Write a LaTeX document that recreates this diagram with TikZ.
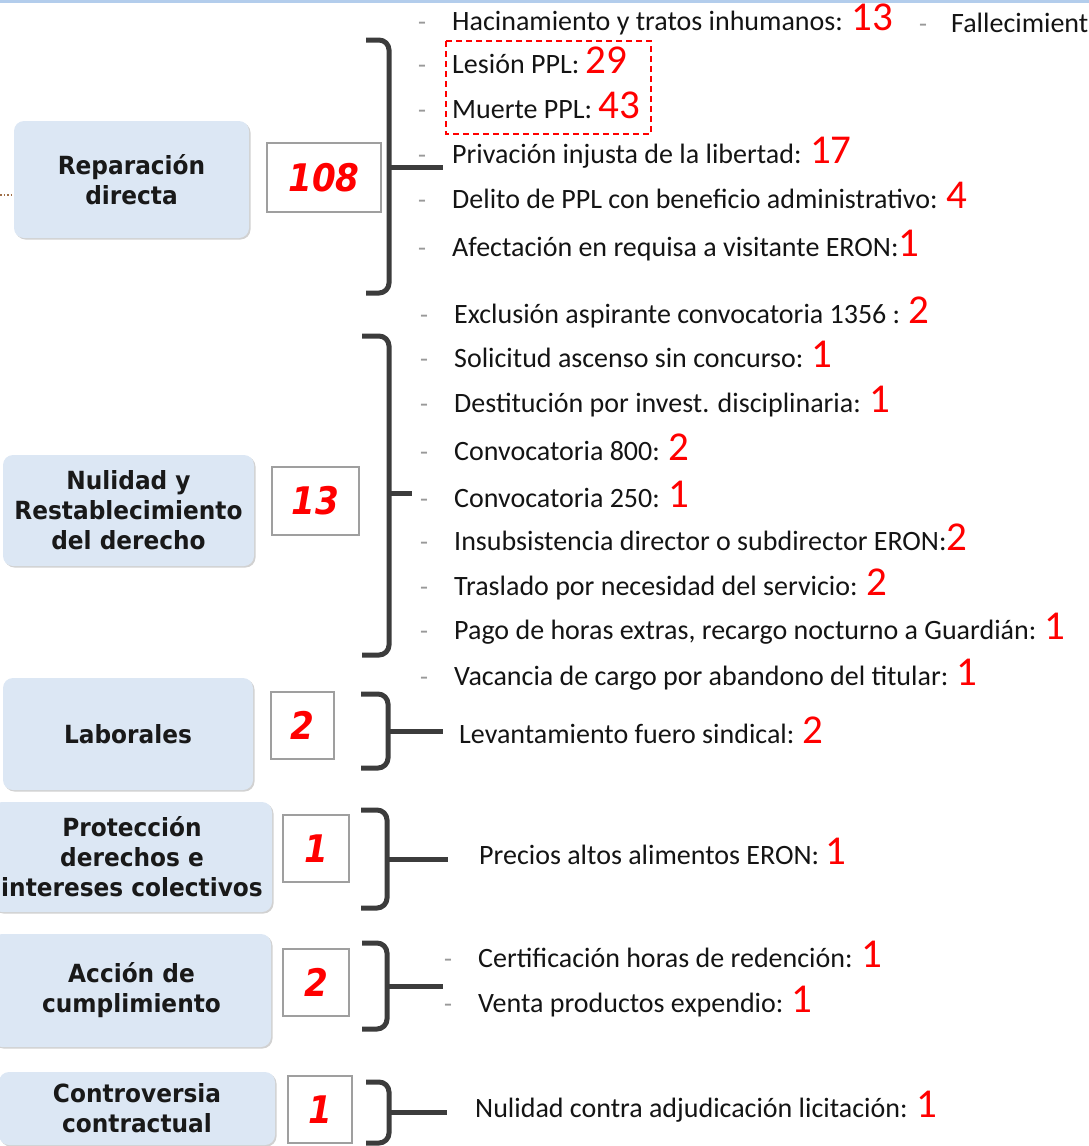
\documentclass[tikz,border=0pt]{standalone}
\usepackage{fontspec}
\setmainfont{Carlito}
\newfontfamily\catfont[FakeStretch=0.93]{DejaVu Sans}
\newfontfamily\numfont[FakeStretch=0.9]{DejaVu Sans}
\usetikzlibrary{shadows}
\definecolor{catfill}{HTML}{DCE7F4}
\definecolor{brk}{HTML}{3C3C3C}
\definecolor{topline}{HTML}{B3CDEC}
\definecolor{dotbrown}{HTML}{A0704A}
\newcommand\rn[1]{{\fontsize{41}{41}\selectfont\color{red}#1}}
\begin{document}
\begin{tikzpicture}[x=1pt,y=-1pt,
  cat/.style={rounded corners=10pt, fill=catfill, draw=none, inner sep=0pt,
    align=center, text=black!90,
    font=\catfont\bfseries\fontsize{25}{30}\selectfont,
    drop shadow={shadow xshift=1.5pt, shadow yshift=-1.5pt, opacity=0.18, fill=black}},
  numbox/.style={draw=gray!75, line width=1.5pt, fill=white, inner sep=0pt,
    text=red, font=\numfont\bfseries\itshape\fontsize{38}{38}\selectfont},
  item/.style={anchor=base west, inner sep=0pt, text=black!92,
    font=\fontsize{28}{30}\selectfont},
  itemdash/.style={anchor=base west, inner sep=0pt, text=gray!80,
    font=\fontsize{26}{26}\selectfont},
  bracket/.style={draw=brk, line width=5pt, rounded corners=10pt},
  tick/.style={draw=brk, line width=5pt},
  hl/.style={draw=red, line width=1.6pt, dash pattern=on 6pt off 4pt}
]
\useasboundingbox (0,0) rectangle (1089,1146);
\fill[topline] (0,0) rectangle (1089,3);
\draw[dotbrown, line width=1.5pt, dotted] (0,195) -- (14,195);

% ---------- category boxes ----------
\node[cat, minimum width=235pt, minimum height=117pt] (c1) at (131.5,179.5) {Reparación\\directa};
\node[cat, minimum width=251pt, minimum height=111pt] (c2) at (128.5,510.5) {Nulidad y\\Restablecimiento\\del derecho};
\node[cat, minimum width=250pt, minimum height=112pt] (c3) at (128,734) {Laborales};
\node[cat, minimum width=280pt, minimum height=110pt] (c4) at (132,857) {Protección\\derechos e\\intereses colectivos};
\node[cat, minimum width=279pt, minimum height=113pt] (c5) at (131.5,990.5) {Acción de\\cumplimiento};
\node[cat, minimum width=276pt, minimum height=73pt] (c6) at (137,1108.5) {Controversia\\contractual};

% ---------- number boxes ----------
\node[numbox, minimum width=114pt, minimum height=69pt] (n1) at (324,177.5) {108};
\node[numbox, minimum width=87pt, minimum height=68pt] (n2) at (315.5,501) {13};
\node[numbox, minimum width=63pt, minimum height=67pt] (n3) at (302.5,725.5) {2};
\node[numbox, minimum width=66pt, minimum height=67pt] (n4) at (316,848.5) {1};
\node[numbox, minimum width=66pt, minimum height=67pt] (n5) at (316,982.5) {2};
\node[numbox, minimum width=64pt, minimum height=67pt] (n6) at (320,1109.5) {1};

% ---------- brackets ----------
\draw[bracket] (366,40) -- (389,40) -- (389,293) -- (366,293);
\draw[tick] (389,167) -- (443,167);
\draw[bracket] (362,336) -- (389,336) -- (389,655) -- (362,655);
\draw[tick] (389,493) -- (412,493);
\draw[bracket] (361,694) -- (388,694) -- (388,768) -- (361,768);
\draw[tick] (388,731) -- (443,731);
\draw[bracket] (361,810) -- (387,810) -- (387,908) -- (361,908);
\draw[tick] (387,859) -- (448,859);
\draw[bracket] (362,943) -- (387,943) -- (387,1029) -- (362,1029);
\draw[tick] (387,986) -- (443,986);
\draw[bracket] (366,1082) -- (389,1082) -- (389,1143) -- (366,1143);
\draw[tick] (389,1112) -- (447,1112);

% ---------- group 1 ----------
\draw[hl] (446,41) rectangle (651,134);
\node[itemdash] (d11) at (418,30) {-};
\node[item] (i11) at (452,30) {Hacinamiento y tratos inhumanos: \rn{13}};
\node[itemdash] (d1x) at (919,32) {-};
\node[item] (i1x) at (951,32) {Fallecimient};
\node[itemdash] (d12) at (418,73) {-};
\node[item] (i12) at (452,73) {Lesión PPL: \rn{29}};
\node[itemdash] (d13) at (418,118) {-};
\node[item] (i13) at (452,118) {Muerte PPL: \rn{43}};
\node[itemdash] (d14) at (418,163) {-};
\node[item] (i14) at (452,163) {Privación injusta de la libertad: \rn{17}};
\node[itemdash] (d15) at (418,208) {-};
\node[item] (i15) at (452,208) {Delito de PPL con beneficio administrativo: \rn{4}};
\node[itemdash] (d16) at (418,256) {-};
\node[item] (i16) at (452,256) {Afectación en requisa a visitante ERON:\rn{1}};

% ---------- group 2 ----------
\node[itemdash] (d21) at (420,323) {-};
\node[item] (i21) at (454,323) {Exclusión aspirante convocatoria 1356 : \rn{2}};
\node[itemdash] (d22) at (420,367) {-};
\node[item] (i22) at (454,367) {Solicitud ascenso sin concurso: \rn{1}};
\node[itemdash] (d23) at (420,412) {-};
\node[item] (i23) at (454,412) {Destitución por invest. disciplinaria: \rn{1}};
\node[itemdash] (d24) at (420,460) {-};
\node[item] (i24) at (454,460) {Convocatoria 800: \rn{2}};
\node[itemdash] (d25) at (420,507) {-};
\node[item] (i25) at (454,507) {Convocatoria 250: \rn{1}};
\node[itemdash] (d26) at (420,550) {-};
\node[item] (i26) at (454,550) {Insubsistencia director o subdirector ERON:\rn{2}};
\node[itemdash] (d27) at (420,595) {-};
\node[item] (i27) at (454,595) {Traslado por necesidad del servicio: \rn{2}};
\node[itemdash] (d28) at (420,639) {-};
\node[item] (i28) at (454,639) {Pago de horas extras, recargo nocturno a Guardián: \rn{1}};
\node[itemdash] (d29) at (420,685) {-};
\node[item] (i29) at (454,685) {Vacancia de cargo por abandono del titular: \rn{1}};

% ---------- groups 3-6 ----------
\node[item] (i31) at (459,743) {Levantamiento fuero sindical: \rn{2}};
\node[item] (i41) at (479,864) {Precios altos alimentos ERON: \rn{1}};
\node[itemdash] (d51) at (444,967) {-};
\node[item] (i51) at (478,967) {Certificación horas de redención: \rn{1}};
\node[itemdash] (d52) at (444,1012) {-};
\node[item] (i52) at (478,1012) {Venta productos expendio: \rn{1}};
\node[item] (i61) at (475,1117) {Nulidad contra adjudicación licitación: \rn{1}};
\end{tikzpicture}
\end{document}
